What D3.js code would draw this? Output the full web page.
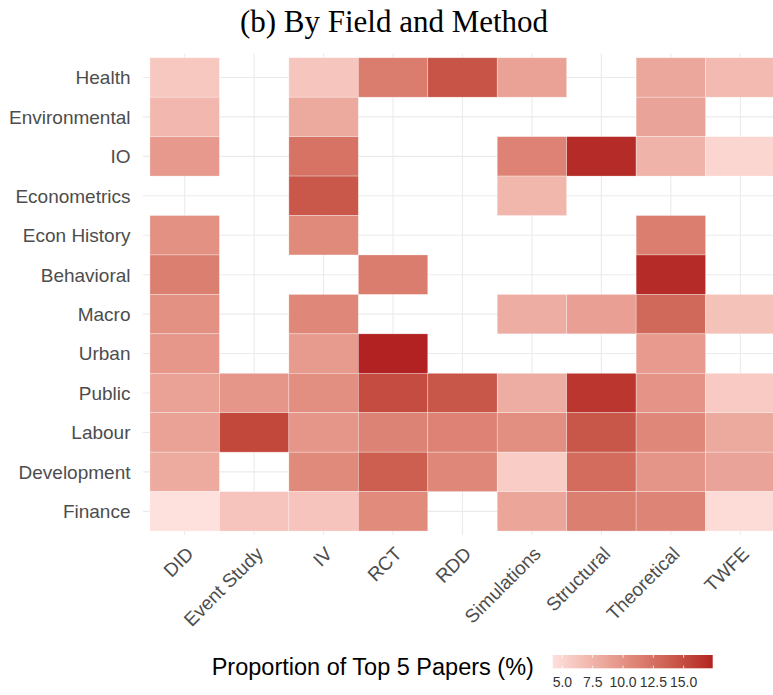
<!DOCTYPE html>
<html><head><meta charset="utf-8">
<script src="https://cdn.jsdelivr.net/npm/d3@7"></script>
<style>body{margin:0;background:#fff}svg{display:block}</style>
</head><body><svg id="c" width="773" height="695"></svg>
<script>
const methods = ["DID","Event Study","IV","RCT","RDD","Simulations","Structural","Theoretical","TWFE"];
const fields = ["Health","Environmental","IO","Econometrics","Econ History","Behavioral","Macro","Urban","Public","Labour","Development","Finance"];
// values per field, in method order (null = no papers)
const health        = [6.0, null, 6.2, 11.6, 14.5, 8.8, null, 8.4, 7.0];
const environmental = [7.2, null, 8.3, null, null, null, null, 8.7, null];
const io            = [9.5, null, 12.3, null, null, 11.2, 17.0, 7.5, 5.0];
const econometrics  = [null, null, 14.2, null, null, 7.3, null, null, null];
const econHistory   = [10.1, null, 10.6, null, null, null, null, 11.5, null];
const behavioral    = [11.4, null, null, 11.6, null, null, null, 17.0, null];
const macro         = [10.1, null, 10.8, null, null, 8.0, 9.0, 13.0, 6.4];
const urban         = [9.6, null, 9.3, 17.4, null, null, null, 9.4, null];
const publicF       = [8.8, 9.7, 10.2, 15.0, 14.3, 8.0, 16.4, 9.9, 5.8];
const labour        = [8.8, 15.3, 9.7, 11.1, 11.2, 10.3, 14.3, 10.8, 8.3];
const development   = [8.1, null, 10.6, 13.7, 10.8, 5.6, 12.8, 9.8, 8.7];
const finance       = [4.2, 6.3, 6.3, 10.5, null, 8.6, 11.4, 11.0, 4.5];
const legendTicks = [5.0, 7.5, 10.0, 12.5, 15.0];

(function () {
const rows = [health, environmental, io, econometrics, econHistory, behavioral, macro, urban, publicF, labour, development, finance];
const cells = [];
rows.forEach((r, i) => r.forEach((v, j) => { if (v != null) cells.push({field: fields[i], method: methods[j], value: v}); }));

const svg = d3.select("#c");
const pL = 143, pR = 782, pT = 53.8, pB = 535;

const x = d3.scaleBand().domain(methods).range([pL, pR]).paddingOuter(0.1).paddingInner(0);
const y = d3.scaleBand().domain(fields).range([pT, pB]).paddingOuter(0.1).paddingInner(0);
const ext = d3.extent(cells, d => d.value);
const color = d3.scaleLinear().domain(ext).range(["#fee0dc", "#b22222"]).interpolate(d3.interpolateLab);

// grid
const g = svg.append("g");
g.selectAll(".vg").data(methods).join("line")
  .attr("x1", d => x(d) + x.bandwidth()/2).attr("x2", d => x(d) + x.bandwidth()/2)
  .attr("y1", pT).attr("y2", pB).attr("stroke", "#ebebeb").attr("stroke-width", 1.1);
g.selectAll(".hg").data(fields).join("line")
  .attr("y1", d => y(d) + y.bandwidth()/2).attr("y2", d => y(d) + y.bandwidth()/2)
  .attr("x1", pL).attr("x2", pR).attr("stroke", "#ebebeb").attr("stroke-width", 1.1);

// tiles
svg.append("g").selectAll("rect").data(cells).join("rect")
  .attr("x", d => x(d.method)).attr("y", d => y(d.field))
  .attr("width", x.bandwidth()).attr("height", y.bandwidth())
  .attr("fill", d => color(d.value))
  .attr("stroke", "#fff").attr("stroke-opacity", 0.5).attr("stroke-width", 0.6);

// y labels
svg.append("g").selectAll("text").data(fields).join("text")
  .attr("x", 130.5).attr("y", d => y(d) + y.bandwidth()/2)
  .attr("dy", "0.36em").attr("text-anchor", "end")
  .attr("font-family", "Liberation Sans, Arial, sans-serif").attr("font-size", 19)
  .attr("fill", "#4d4d4d").text(d => d);

// x labels
svg.append("g").selectAll("text").data(methods).join("text")
  .attr("transform", d => `translate(${x(d) + x.bandwidth()/2 + 10},${555}) rotate(-45)`)
  .attr("text-anchor", "end")
  .attr("font-family", "Liberation Sans, Arial, sans-serif").attr("font-size", 19)
  .attr("fill", "#4d4d4d").text(d => d);

// title
svg.append("text").attr("x", 394).attr("y", 32).attr("text-anchor", "middle")
  .attr("font-family", "Liberation Serif, Times New Roman, serif").attr("font-size", 31)
  .attr("fill", "#000").text("(b) By Field and Method");

// legend
const lx0 = 552.7, lx1 = 712.7, ly = 655, lh = 13.3;
const lscale = d3.scaleLinear().domain(ext).range([lx0, lx1]);
const defs = svg.append("defs");
const grad = defs.append("linearGradient").attr("id", "lg");
d3.range(0, 1.0001, 0.05).forEach(t => {
  grad.append("stop").attr("offset", t).attr("stop-color", color(ext[0] + t*(ext[1]-ext[0])));
});
svg.append("rect").attr("x", lx0).attr("y", ly).attr("width", lx1 - lx0).attr("height", lh).attr("fill", "url(#lg)");
const lt = svg.append("g");
lt.selectAll(".t1").data(legendTicks).join("line")
  .attr("x1", d => lscale(d)).attr("x2", d => lscale(d)).attr("y1", ly).attr("y2", ly + lh*0.2)
  .attr("stroke", "#fff").attr("stroke-width", 0.8);
lt.selectAll(".t2").data(legendTicks).join("line")
  .attr("x1", d => lscale(d)).attr("x2", d => lscale(d)).attr("y1", ly + lh*0.8).attr("y2", ly + lh)
  .attr("stroke", "#fff").attr("stroke-width", 0.8);
svg.append("g").selectAll("text").data(legendTicks).join("text")
  .attr("x", d => lscale(d)).attr("y", 687).attr("text-anchor", "middle")
  .attr("font-family", "Liberation Sans, Arial, sans-serif").attr("font-size", 14)
  .attr("fill", "#333").text(d => d3.format(".1f")(d));
svg.append("text").attr("x", 211.7).attr("y", 675)
  .attr("font-family", "Liberation Sans, Arial, sans-serif").attr("font-size", 23.5)
  .attr("fill", "#000").text("Proportion of Top 5 Papers (%)");
})();
</script></body></html>
